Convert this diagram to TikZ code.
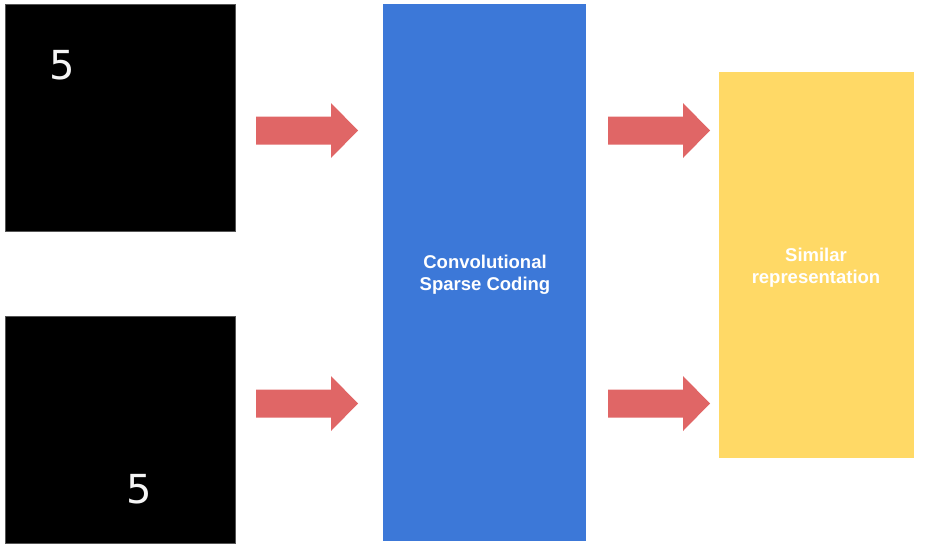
\documentclass[tikz,border=0pt]{standalone}
\usepackage{fontspec}
\setmainfont{Liberation Sans}
\newfontfamily\digitfont{DejaVu Sans}
\definecolor{cscblue}{HTML}{3C78D8}
\definecolor{simyellow}{HTML}{FFD966}
\definecolor{arrowred}{HTML}{E06666}
\definecolor{frameg}{HTML}{555555}
\tikzset{
  imgbox/.style={fill=black, draw=frameg, line width=0.8pt},
  digit/.style={text=white!92!gray, font=\digitfont\fontsize{40}{40}\selectfont, inner sep=0pt},
  bigbox/.style={draw=none, inner sep=0pt},
  boxlabel/.style={text=white, font=\bfseries\fontsize{18.5}{22}\selectfont, align=center},
  fatarrow/.style={fill=arrowred, draw=none}
}
\begin{document}
\begin{tikzpicture}[x=1pt,y=-1pt]
\useasboundingbox (0,0) rectangle (926,551);
% input images
\node[imgbox, minimum width=230pt, minimum height=227pt, anchor=north west] (img1) at (5,4) {};
\node[imgbox, minimum width=230pt, minimum height=227pt, anchor=north west] (img2) at (5,316) {};
\node[digit] (d1) at (62,65) {5};
\node[digit] (d2) at (139,489) {5};
% central box
\node[bigbox, fill=cscblue, minimum width=203pt, minimum height=537pt, anchor=north west] (csc) at (383,4) {};
\node[boxlabel] (csclabel) at (485,275) {Convolutional\\Sparse Coding};
% output box
\node[bigbox, fill=simyellow, minimum width=195pt, minimum height=386pt, anchor=north west] (sim) at (719,72) {};
\node[boxlabel] (simlabel) at (816,268) {Similar\\representation};
% arrows
\foreach \nm/\xa/\yc in {a1/256/130, a2/256/403, a3/608/130, a4/608/403}{
  \coordinate (\nm) at (\xa,\yc);
  \fill[fatarrow] (\nm) ++(0,-13.5) -- ++(75,0) -- ++(0,-13.5) -- ++(27,27.5) -- ++(-27,27.5) -- ++(0,-13.5) -- ++(-75,0) -- cycle;
}
\end{tikzpicture}
\end{document}
